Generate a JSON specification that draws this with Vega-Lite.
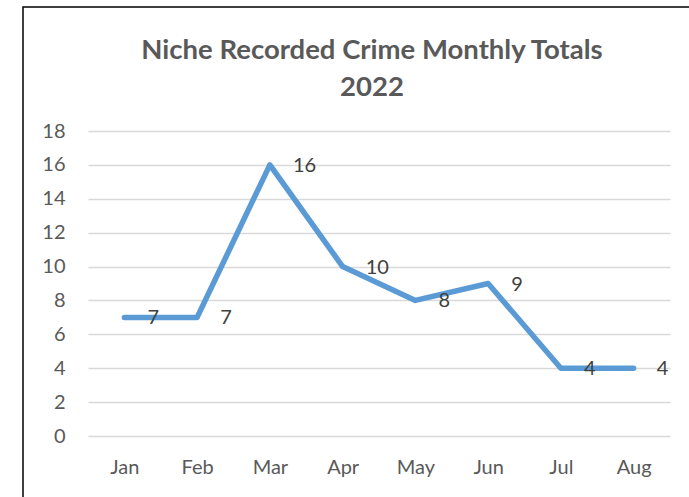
{
  "$schema": "https://vega.github.io/schema/vega-lite/v6.json",
  "autosize": "none",
  "width": 672,
  "height": 500,
  "padding": {"left": 23, "top": 7, "right": 0, "bottom": 0},
  "background": "white",
  "config": {
    "view": {"stroke": "black", "strokeWidth": 1.5},
    "font": "Lato"
  },
  "title": {
    "text": ["Niche Recorded Crime Monthly Totals", "2022"],
    "anchor": "middle",
    "frame": "group",
    "baseline": "top",
    "offset": 0,
    "dy": 94,
    "dx": 13,
    "lineHeight": 37,
    "fontSize": 27.5,
    "fontWeight": "bold",
    "font": "Lato",
    "color": "#595959"
  },
  "data": {
    "values": [
      {"month": "Jan", "total": 7},
      {"month": "Feb", "total": 7},
      {"month": "Mar", "total": 16},
      {"month": "Apr", "total": 10},
      {"month": "May", "total": 8},
      {"month": "Jun", "total": 9},
      {"month": "Jul", "total": 4},
      {"month": "Aug", "total": 4}
    ]
  },
  "encoding": {
    "x": {
      "field": "month",
      "type": "ordinal",
      "sort": null,
      "scale": {"type": "point", "padding": 0.5, "range": [65, 647]},
      "axis": {
        "title": null,
        "labelAngle": 0,
        "domain": false,
        "ticks": false,
        "grid": false,
        "offset": -71,
        "labelPadding": 31,
        "labelBaseline": "middle",
        "labelFontSize": 20,
        "labelColor": "#595959",
        "labelFont": "Lato"
      }
    },
    "y": {
      "field": "total",
      "type": "quantitative",
      "scale": {"domain": [0, 18], "range": [429, 124], "nice": false, "zero": true},
      "axis": {
        "title": null,
        "values": [0, 2, 4, 6, 8, 10, 12, 14, 16, 18],
        "domain": false,
        "ticks": false,
        "grid": true,
        "gridColor": "#D9D9D9",
        "gridWidth": 1.5,
        "offset": -42,
        "labelPadding": 0,
        "labelFontSize": 20,
        "labelColor": "#595959",
        "labelFont": "Lato"
      }
    }
  },
  "layer": [
    {
      "mark": {"type": "line", "color": "#5B9BD5", "strokeWidth": 5.5, "strokeCap": "round", "strokeJoin": "round"}
    },
    {
      "mark": {"type": "text", "align": "left", "baseline": "middle", "dx": 23, "dy": 1, "fontSize": 20, "color": "#404040", "font": "Lato"},
      "encoding": {"text": {"field": "total", "type": "quantitative"}}
    }
  ]
}
